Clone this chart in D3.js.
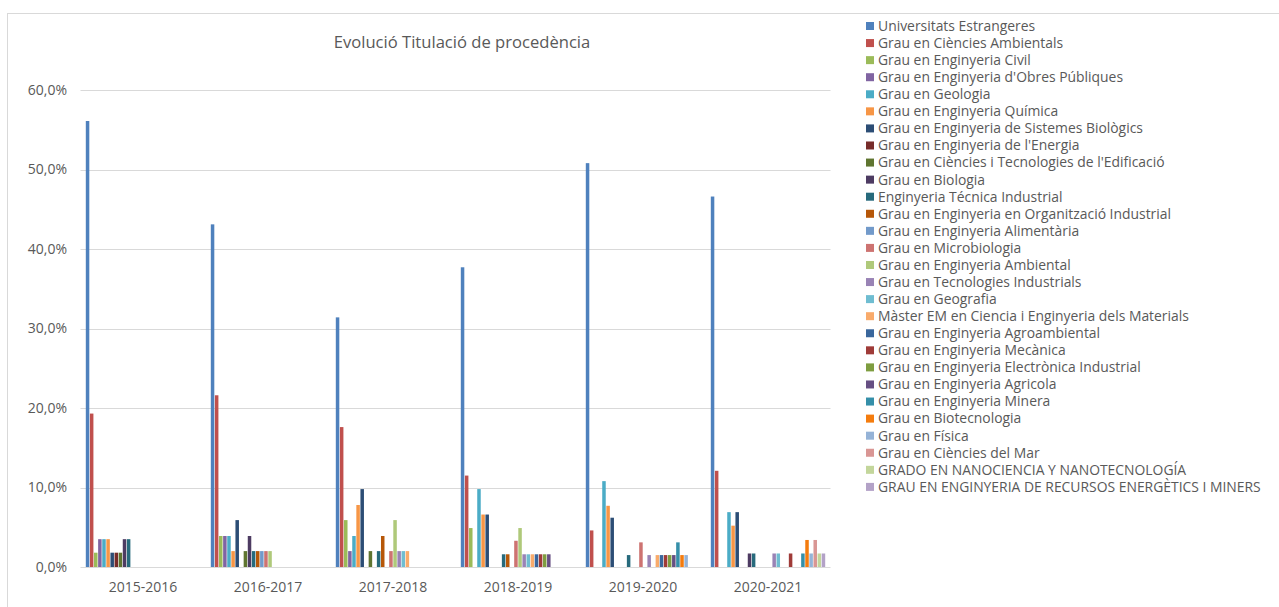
<!DOCTYPE html>
<html><head><meta charset="utf-8">
<script src="https://cdn.jsdelivr.net/npm/d3@7"></script>
<style>body{margin:0;background:#fff;}svg{display:block;font-family:"Open Sans","Liberation Sans",sans-serif;}</style>
</head><body><svg id="c" width="1279" height="607"></svg>
<script>
const years = ["2015-2016","2016-2017","2017-2018","2018-2019","2019-2020","2020-2021"];
const seriesNames = [
"Universitats Estrangeres","Grau en Ciències Ambientals","Grau en Enginyeria Civil","Grau en Enginyeria d'Obres Públiques",
"Grau en Geologia","Grau en Enginyeria Química","Grau en Enginyeria de Sistemes Biològics","Grau en Enginyeria de l'Energia",
"Grau en Ciències i Tecnologies de l'Edificació","Grau en Biologia","Enginyeria Técnica Industrial","Grau en Enginyeria en Organització Industrial",
"Grau en Enginyeria Alimentària","Grau en Microbiologia","Grau en Enginyeria Ambiental","Grau en Tecnologies Industrials",
"Grau en Geografia","Màster EM en Ciencia i Enginyeria dels Materials","Grau en Enginyeria Agroambiental","Grau en Enginyeria Mecànica",
"Grau en Enginyeria Electrònica Industrial","Grau en Enginyeria Agricola","Grau en Enginyeria Minera","Grau en Biotecnologia",
"Grau en Física","Grau en Ciències del Mar","GRADO EN NANOCIENCIA Y NANOTECNOLOGÍA","GRAU EN ENGINYERIA DE RECURSOS ENERGÈTICS I MINERS"];
const colors = ["#4F81BD","#C0504D","#9BBB59","#8064A2","#4BACC6","#F79646","#2C4D75","#772C2A","#5F7530","#4D3B62","#276A7C","#B65708",
"#729ACA","#CD7371","#AFC97A","#9983B5","#6FBDD1","#F9AB6B","#3A679C","#9F3B38","#7E9D40","#664F83","#358FA9","#F47C0E",
"#95B3D7","#D99694","#C3D69B","#B3A2C7"];
// values (%) per year, indexed by series
const v2015 = [56.1,19.3,1.8,3.5,3.5,3.5,1.8,1.8,1.8,3.5,3.5,0,0,0,0,0,0,0,0,0,0,0,0,0,0,0,0,0];
const v2016 = [43.1,21.6,3.9,3.9,3.9,2.0,5.9,0,2.0,3.9,2.0,2.0,2.0,2.0,2.0,0,0,0,0,0,0,0,0,0,0,0,0,0];
const v2017 = [31.4,17.6,5.9,2.0,3.9,7.8,9.8,0,2.0,0,2.0,3.9,0,2.0,5.9,2.0,2.0,2.0,0,0,0,0,0,0,0,0,0,0];
const v2018 = [37.7,11.5,4.9,0,9.8,6.6,6.6,0,0,0,1.6,1.6,0,3.3,4.9,1.6,1.6,1.6,1.6,1.6,1.6,1.6,0,0,0,0,0,0];
const v2019 = [50.8,4.6,0,0,10.8,7.7,6.2,0,0,0,1.5,0,0,3.1,0,1.5,0,1.5,1.5,1.5,1.5,1.5,3.1,1.5,1.5,0,0,0];
const v2020 = [46.6,12.1,0,0,6.9,5.2,6.9,0,0,1.7,1.7,0,0,0,0,1.7,1.7,0,0,1.7,0,0,1.7,3.4,1.7,3.4,1.7,1.7];
const yTicks = [0,10,20,30,40,50,60];
const values = [v2015,v2016,v2017,v2018,v2019,v2020];

const svg = d3.select("#c");
const txt = "#595959";
const ff = "'Open Sans','Liberation Sans',sans-serif";
// chart frame
svg.append("rect").attr("x",7.5).attr("y",13.5).attr("width",1290).attr("height",620).attr("fill","none").attr("stroke","#D9D9D9");

const x0 = d3.scaleBand().domain(years).range([80.5,830.5]).padding(0);
const x1 = d3.scaleBand().domain(d3.range(seriesNames.length)).range([5,120]).padding(0);
const y = d3.scaleLinear().domain([0,60]).range([567,90]);
const fmt = d => d.toFixed(1).replace(".",",")+"%";

// gridlines
svg.append("g").selectAll("line").data(yTicks).join("line")
  .attr("x1",80.5).attr("x2",830.5).attr("y1",d=>Math.round(y(d))+0.5).attr("y2",d=>Math.round(y(d))+0.5)
  .attr("stroke","#D9D9D9").attr("stroke-width",1);

// y axis labels
const ya = svg.append("g").attr("transform","translate(67,0)").call(d3.axisLeft(y).tickValues(yTicks).tickFormat(fmt).tickSize(0).tickPadding(0));
ya.select(".domain").remove();
ya.selectAll("text").attr("fill",txt).attr("font-size",14).attr("font-family",ff);

// x axis labels
const xa = svg.append("g").attr("transform","translate(0,582)").call(d3.axisBottom(x0).tickSize(0).tickPadding(0));
xa.select(".domain").remove();
xa.selectAll("text").attr("fill",txt).attr("font-size",14).attr("font-family",ff);

// bars
const groups = svg.append("g").selectAll("g").data(years).join("g").attr("transform",d=>`translate(${x0(d)},0)`);
groups.selectAll("rect").data((d,i)=>values[i].map((v,j)=>({v,j})).filter(e=>e.v>0)).join("rect")
  .attr("x",e=>x1(e.j)+0.3).attr("width",x1.bandwidth()-0.6)
  .attr("y",e=>y(e.v)).attr("height",e=>y(0)-y(e.v))
  .attr("fill",e=>colors[e.j]);

// title
svg.append("text").attr("x",462).attr("y",48).attr("text-anchor","middle").attr("fill",txt)
  .attr("font-size",16.6).text("Evolució Titulació de procedència");

// legend
const lg = svg.append("g").selectAll("g").data(seriesNames).join("g")
  .attr("transform",(d,i)=>`translate(866,${26+i*17.07})`);
lg.append("rect").attr("x",0).attr("y",-4).attr("width",8).attr("height",8).attr("fill",(d,i)=>colors[i]);
lg.append("text").attr("x",12).attr("y",0).attr("dy","0.35em").attr("fill",txt).attr("font-size",13.9).text(d=>d);
</script></body></html>
